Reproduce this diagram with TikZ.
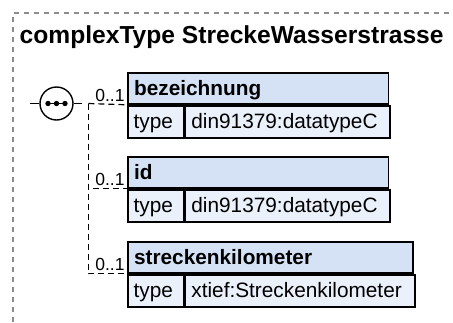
\documentclass[tikz,border=0pt]{standalone}
\usepackage{fontspec}
\setmainfont{Liberation Sans}
\definecolor{hdrfill}{HTML}{D5E2F6}
\definecolor{rowfill}{HTML}{EAF1FB}
\definecolor{frame}{HTML}{8C8C8C}
\tikzset{
  hdr/.style={draw=black, fill=hdrfill, line width=1.8pt, anchor=north west,
    minimum height=31pt, inner xsep=6.5pt, inner ysep=0pt,
    text height=15pt, text depth=0pt, align=left,
    font=\fontsize{20.8}{24}\selectfont\bfseries},
  cell/.style={draw=black, fill=rowfill, line width=1.8pt, anchor=north west,
    minimum height=32.5pt, inner xsep=6pt, inner ysep=0pt,
    text height=13pt, text depth=0pt, align=left,
    font=\fontsize{20.8}{24}\selectfont},
  conn/.style={draw=black, line width=1.2pt, dash pattern=on 6pt off 4pt},
  card/.style={anchor=base east, inner sep=0pt, font=\fontsize{17.5}{20}\selectfont},
  seqc/.style={draw=black, fill=white, circle, line width=1.4pt, minimum size=33pt, inner sep=0pt}
}
\begin{document}
\begin{tikzpicture}[x=1pt,y=-1pt]
\useasboundingbox (0,0) rectangle (453,322);
% outer frame (top and left only)
\draw[frame, line width=1.2pt, dash pattern=on 5pt off 5pt] (13,322) -- (13,13) -- (453,13);
\node[anchor=base west, inner sep=0pt, font=\fontsize{24.6}{28}\selectfont\bfseries] (title) at (19.5,43.3) {complexType StreckeWasserstrasse};

% box 1
\node[hdr, minimum width=260.8pt, text width=247.8pt] (h1) at (126.7,72) {bezeichnung};
\node[cell, minimum width=56pt, text width=44pt] (t1) at (h1.south west) {type};
\node[cell, minimum width=204.8pt, text width=192.8pt] (v1) at (t1.north east) {din91379:datatypeC};
% box 2
\node[hdr, minimum width=260.8pt, text width=247.8pt] (h2) at (126.7,156) {id};
\node[cell, minimum width=56pt, text width=44pt] (t2) at (h2.south west) {type};
\node[cell, minimum width=204.8pt, text width=192.8pt] (v2) at (t2.north east) {din91379:datatypeC};
% box 3
\node[hdr, minimum width=285.6pt, text width=272.6pt] (h3) at (126.7,241) {streckenkilometer};
\node[cell, minimum width=56pt, text width=44pt] (t3) at (h3.south west) {type};
\node[cell, minimum width=229.6pt, text width=217.6pt] (v3) at (t3.north east) {xtief:Streckenkilometer};

% sequence compositor
\node[seqc] (seq) at (56.5,103.5) {};
\coordinate (inL) at (30,103.5);
\coordinate (outR) at (82,103.5);
\coordinate (br) at (88.3,103.5);
\draw[line width=1.2pt] (inL) -- (seq.west);
\draw[line width=1.2pt] (seq.east) -- (outR);
\draw[line width=1.3pt] ([xshift=-8.5pt]seq.center) -- ([xshift=8.5pt]seq.center);
\fill ([xshift=-8.5pt]seq.center) circle (2.7pt);
\fill (seq.center) circle (2.7pt);
\fill ([xshift=8.5pt]seq.center) circle (2.7pt);

% connectors
\draw[conn] (br) -- (h1.south west);
\draw[conn] (br) |- (h2.south west);
\draw[conn] (br) |- (h3.south west);

% cardinalities
\node[card] (c1) at ([xshift=-2pt,yshift=3.5pt]h1.south west) {0..1};
\node[card] (c2) at ([xshift=-2pt,yshift=3.5pt]h2.south west) {0..1};
\node[card] (c3) at ([xshift=-2pt,yshift=3.5pt]h3.south west) {0..1};
\end{tikzpicture}
\end{document}
